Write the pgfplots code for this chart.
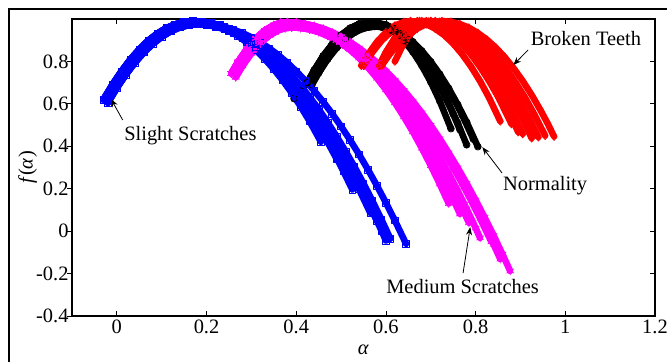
\documentclass[border=0pt]{standalone}
\usepackage{fontspec}
\setmainfont{Liberation Serif}[ItalicFont={Liberation Serif Italic}]
\usepackage{pgfplots}
\pgfplotsset{compat=1.18}
\usetikzlibrary{arrows.meta}
\pgfplotsset{
 grpB/.style={color={rgb,255:red,0;green,0;blue,255}, line width=6.5bp, line join=round, line cap=round, mark=square, mark size=3.3bp, mark options={line width=0.7bp, solid}},
 grpM/.style={color={rgb,255:red,255;green,0;blue,255}, line width=6.5bp, line join=round, line cap=round, mark=asterisk, mark size=4bp, mark options={line width=0.8bp, solid}},
 grpK/.style={black, line width=6.5bp, line join=round, line cap=round, mark=o, mark size=3.4bp, mark options={line width=0.7bp, solid}},
 grpR/.style={color={rgb,255:red,255;green,0;blue,0}, line width=6.5bp, line join=round, line cap=round, mark=diamond, mark size=4bp, mark options={line width=0.7bp, solid}},
}
\tikzset{ann/.style={-{Stealth[length=8bp,width=6bp]}, line width=0.8bp, black}}
\begin{document}
\begin{tikzpicture}[font=\rmfamily\fontsize{20.5}{24}\selectfont]
% left outside ticks
\begin{axis}[
 scale only axis, width=583bp, height=297bp,
 xmin=-0.1, xmax=1.2, ymin=-0.4, ymax=1.0,
 hide x axis, axis y line*=left,
 ytick={-0.4,-0.2,0,0.2,0.4,0.6,0.8}, yticklabels={},
 tick align=outside, major tick length=5bp,
 tick style={black, line width=0.8bp},
 axis line style={line width=1.2bp, -},
]
\end{axis}
\begin{axis}[
 name=main,
 scale only axis, width=583bp, height=297bp,
 xmin=-0.1, xmax=1.2, ymin=-0.4, ymax=1.0,
 clip=false,
 xtick={0,0.2,0.4,0.6,0.8,1,1.2}, xticklabels={0,0.2,0.4,0.6,0.8,1,1.2},
 ytick={-0.4,-0.2,0,0.2,0.4,0.6,0.8}, yticklabels={-0.4,-0.2,0,0.2,0.4,0.6,0.8},
 xtick pos=both, ytick pos=right, yticklabel pos=left,
 tick align=inside, major tick length=5bp,
 tick style={black, line width=0.8bp},
 axis line style={line width=1.2bp},
 ticklabel style={font=\rmfamily\fontsize{20.5}{24}\selectfont},
 label style={font=\rmfamily\fontsize{20.5}{24}\selectfont},
 xlabel={\textit{α}}, ylabel={\textit{f}(\textit{α})},
 xlabel style={at={(axis description cs:0.5,-0.114)}, anchor=center},
 ylabel style={at={(axis description cs:-0.076,0.5)}, anchor=center},
]
% ---------- Normality (black) ----------
\addplot[grpK] coordinates {(0.395,0.625) (0.41,0.66) (0.425,0.701) (0.44,0.758) (0.46,0.825) (0.48,0.880) (0.50,0.924) (0.52,0.956) (0.54,0.976) (0.565,0.985) (0.58,0.981) (0.60,0.966) (0.62,0.938) (0.64,0.898) (0.66,0.845) (0.68,0.780) (0.70,0.703) (0.72,0.613) (0.745,0.483)};
\addplot[grpK] coordinates {(0.435,0.691) (0.45,0.746) (0.47,0.811) (0.49,0.864) (0.51,0.906) (0.53,0.937) (0.55,0.956) (0.575,0.965) (0.59,0.962) (0.61,0.948) (0.63,0.924) (0.65,0.889) (0.67,0.843) (0.69,0.786) (0.71,0.719) (0.73,0.641) (0.75,0.552) (0.765,0.478)};
\addplot[grpK] coordinates {(0.425,0.701) (0.44,0.758) (0.46,0.825) (0.48,0.880) (0.50,0.924) (0.52,0.956) (0.54,0.976) (0.565,0.985) (0.58,0.982) (0.60,0.970) (0.62,0.947) (0.64,0.915) (0.66,0.872) (0.68,0.820) (0.70,0.757) (0.72,0.685) (0.74,0.602) (0.76,0.510) (0.78,0.407)};
\addplot[grpK] coordinates {(0.435,0.691) (0.45,0.746) (0.47,0.811) (0.49,0.864) (0.51,0.906) (0.53,0.937) (0.55,0.956) (0.575,0.965) (0.59,0.963) (0.61,0.952) (0.63,0.932) (0.65,0.903) (0.67,0.866) (0.69,0.820) (0.71,0.765) (0.73,0.701) (0.75,0.628) (0.77,0.547) (0.795,0.433)};
\addplot[grpK] coordinates {(0.425,0.701) (0.44,0.758) (0.46,0.825) (0.48,0.880) (0.50,0.924) (0.52,0.956) (0.54,0.976) (0.565,0.985) (0.58,0.983) (0.60,0.973) (0.62,0.954) (0.64,0.928) (0.66,0.893) (0.68,0.850) (0.70,0.799) (0.72,0.740) (0.74,0.673) (0.76,0.597) (0.78,0.514) (0.805,0.398)};
% ---------- Slight Scratches (blue) ----------
\addplot[grpB] coordinates {(-0.03,0.62) (-0.01,0.690) (0.01,0.753) (0.03,0.809) (0.05,0.857) (0.07,0.898) (0.09,0.931) (0.11,0.957) (0.13,0.975) (0.15,0.986) (0.17,0.99) (0.19,0.987) (0.21,0.979) (0.23,0.965) (0.25,0.945) (0.27,0.920) (0.29,0.889) (0.31,0.853) (0.33,0.811) (0.35,0.763) (0.37,0.710) (0.39,0.651) (0.41,0.587) (0.43,0.517) (0.455,0.421)};
\addplot[grpB] coordinates {(-0.02,0.605) (0.00,0.675) (0.02,0.738) (0.04,0.794) (0.06,0.842) (0.08,0.883) (0.10,0.916) (0.12,0.942) (0.14,0.960) (0.16,0.971) (0.18,0.975) (0.20,0.972) (0.22,0.964) (0.24,0.951) (0.26,0.933) (0.28,0.909) (0.30,0.880) (0.32,0.846) (0.34,0.806) (0.36,0.761) (0.38,0.711) (0.40,0.656) (0.42,0.595) (0.44,0.529) (0.46,0.458) (0.49,0.341)};
\addplot[grpB] coordinates {(-0.03,0.62) (-0.01,0.690) (0.01,0.753) (0.03,0.809) (0.05,0.857) (0.07,0.898) (0.09,0.931) (0.11,0.957) (0.13,0.975) (0.15,0.986) (0.17,0.99) (0.19,0.987) (0.21,0.980) (0.23,0.967) (0.25,0.950) (0.27,0.927) (0.29,0.899) (0.31,0.867) (0.33,0.829) (0.35,0.786) (0.37,0.738) (0.39,0.685) (0.41,0.627) (0.43,0.564) (0.45,0.496) (0.47,0.423) (0.49,0.345) (0.505,0.283) (0.525,0.196)};
\addplot[grpB] coordinates {(-0.02,0.605) (0.00,0.675) (0.02,0.738) (0.04,0.794) (0.06,0.842) (0.08,0.883) (0.10,0.916) (0.12,0.942) (0.14,0.960) (0.16,0.971) (0.18,0.975) (0.20,0.973) (0.22,0.965) (0.24,0.953) (0.26,0.937) (0.28,0.915) (0.30,0.889) (0.32,0.857) (0.34,0.821) (0.36,0.781) (0.38,0.735) (0.40,0.685) (0.42,0.629) (0.44,0.569) (0.46,0.505) (0.48,0.435) (0.50,0.361) (0.52,0.281) (0.54,0.197) (0.565,0.086)};
\addplot[grpB] coordinates {(-0.02,0.605) (0.00,0.675) (0.02,0.738) (0.04,0.794) (0.06,0.842) (0.08,0.883) (0.10,0.916) (0.12,0.942) (0.14,0.960) (0.16,0.971) (0.18,0.975) (0.20,0.973) (0.22,0.966) (0.24,0.954) (0.26,0.938) (0.28,0.917) (0.30,0.892) (0.32,0.861) (0.34,0.827) (0.36,0.787) (0.38,0.743) (0.40,0.694) (0.42,0.641) (0.44,0.583) (0.46,0.520) (0.48,0.453) (0.50,0.381) (0.52,0.305) (0.54,0.223) (0.56,0.138) (0.58,0.047)};
\addplot[grpB] coordinates {(-0.03,0.62) (-0.01,0.690) (0.01,0.753) (0.03,0.809) (0.05,0.857) (0.07,0.898) (0.09,0.931) (0.11,0.957) (0.13,0.975) (0.15,0.986) (0.17,0.99) (0.19,0.988) (0.21,0.981) (0.23,0.970) (0.25,0.954) (0.27,0.934) (0.29,0.909) (0.31,0.880) (0.33,0.847) (0.35,0.809) (0.37,0.766) (0.39,0.719) (0.41,0.667) (0.43,0.611) (0.45,0.551) (0.47,0.486) (0.49,0.417) (0.51,0.343) (0.53,0.264) (0.55,0.181) (0.57,0.094) (0.59,0.002) (0.60,-0.045)};
\addplot[grpB] coordinates {(-0.03,0.62) (-0.01,0.690) (0.01,0.753) (0.03,0.809) (0.05,0.857) (0.07,0.898) (0.09,0.931) (0.11,0.957) (0.13,0.975) (0.15,0.986) (0.17,0.99) (0.19,0.988) (0.21,0.982) (0.23,0.971) (0.25,0.956) (0.27,0.937) (0.29,0.914) (0.31,0.886) (0.33,0.854) (0.35,0.818) (0.37,0.778) (0.39,0.734) (0.41,0.685) (0.43,0.632) (0.45,0.575) (0.47,0.513) (0.49,0.447) (0.51,0.377) (0.53,0.303) (0.55,0.225) (0.57,0.142) (0.59,0.055) (0.61,-0.036)};
\addplot[grpB] coordinates {(-0.02,0.605) (0.00,0.675) (0.02,0.738) (0.04,0.794) (0.06,0.842) (0.08,0.883) (0.10,0.916) (0.12,0.942) (0.14,0.960) (0.16,0.971) (0.18,0.975) (0.20,0.975) (0.22,0.970) (0.24,0.962) (0.26,0.950) (0.28,0.934) (0.30,0.914) (0.32,0.890) (0.34,0.862) (0.36,0.830) (0.38,0.794) (0.40,0.754) (0.42,0.710) (0.44,0.662) (0.46,0.610) (0.48,0.554) (0.50,0.494) (0.52,0.430) (0.54,0.362) (0.56,0.290) (0.58,0.214) (0.60,0.134) (0.62,0.050) (0.645,-0.060)};
% ---------- Medium Scratches (magenta) ----------
\addplot[grpM] coordinates {(0.255,0.743) (0.27,0.797) (0.29,0.859) (0.31,0.909) (0.33,0.946) (0.35,0.971) (0.365,0.982) (0.38,0.985) (0.40,0.982) (0.42,0.974) (0.44,0.961) (0.46,0.943) (0.48,0.919) (0.50,0.890) (0.52,0.856) (0.54,0.816) (0.56,0.771) (0.58,0.721) (0.60,0.666) (0.62,0.605) (0.64,0.539) (0.66,0.468) (0.68,0.391) (0.70,0.309) (0.72,0.222) (0.74,0.130)};
\addplot[grpM] coordinates {(0.265,0.726) (0.28,0.779) (0.30,0.839) (0.32,0.887) (0.34,0.923) (0.36,0.947) (0.375,0.957) (0.39,0.96) (0.41,0.958) (0.43,0.950) (0.45,0.938) (0.47,0.920) (0.49,0.898) (0.51,0.870) (0.53,0.838) (0.55,0.800) (0.57,0.758) (0.59,0.710) (0.61,0.658) (0.63,0.600) (0.65,0.538) (0.67,0.470) (0.69,0.398) (0.71,0.320) (0.73,0.238) (0.75,0.150) (0.765,0.081)};
\addplot[grpM] coordinates {(0.265,0.726) (0.28,0.779) (0.30,0.839) (0.32,0.887) (0.34,0.923) (0.36,0.947) (0.375,0.957) (0.39,0.96) (0.41,0.958) (0.43,0.951) (0.45,0.939) (0.47,0.922) (0.49,0.901) (0.51,0.875) (0.53,0.844) (0.55,0.809) (0.57,0.769) (0.59,0.724) (0.61,0.674) (0.63,0.620) (0.65,0.561) (0.67,0.497) (0.69,0.429) (0.71,0.356) (0.73,0.278) (0.75,0.195) (0.77,0.108) (0.785,0.039)};
\addplot[grpM] coordinates {(0.255,0.743) (0.27,0.797) (0.29,0.859) (0.31,0.909) (0.33,0.946) (0.35,0.971) (0.365,0.982) (0.38,0.985) (0.40,0.983) (0.42,0.976) (0.44,0.965) (0.46,0.950) (0.48,0.930) (0.50,0.906) (0.52,0.877) (0.54,0.844) (0.56,0.807) (0.58,0.765) (0.60,0.719) (0.62,0.668) (0.64,0.613) (0.66,0.554) (0.68,0.490) (0.70,0.422) (0.72,0.349) (0.74,0.272) (0.76,0.191) (0.78,0.105) (0.80,0.015) (0.81,-0.032)};
\addplot[grpM] coordinates {(0.265,0.726) (0.28,0.779) (0.30,0.839) (0.32,0.887) (0.34,0.923) (0.36,0.947) (0.375,0.957) (0.39,0.96) (0.41,0.958) (0.43,0.952) (0.45,0.942) (0.47,0.927) (0.49,0.909) (0.51,0.887) (0.53,0.860) (0.55,0.829) (0.57,0.795) (0.59,0.756) (0.61,0.713) (0.63,0.666) (0.65,0.615) (0.67,0.560) (0.69,0.501) (0.71,0.438) (0.73,0.370) (0.75,0.299) (0.77,0.224) (0.79,0.144) (0.81,0.060) (0.835,-0.050)};
\addplot[grpM] coordinates {(0.255,0.743) (0.27,0.797) (0.29,0.859) (0.31,0.909) (0.33,0.946) (0.35,0.971) (0.365,0.982) (0.38,0.985) (0.40,0.983) (0.42,0.977) (0.44,0.967) (0.46,0.953) (0.48,0.936) (0.50,0.914) (0.52,0.888) (0.54,0.858) (0.56,0.825) (0.58,0.787) (0.60,0.745) (0.62,0.700) (0.64,0.650) (0.66,0.597) (0.68,0.540) (0.70,0.478) (0.72,0.413) (0.74,0.344) (0.76,0.270) (0.78,0.193) (0.80,0.112) (0.82,0.027) (0.84,-0.062) (0.855,-0.132)};
\addplot[grpM] coordinates {(0.255,0.743) (0.27,0.797) (0.29,0.859) (0.31,0.909) (0.33,0.946) (0.35,0.971) (0.365,0.982) (0.38,0.985) (0.40,0.983) (0.42,0.977) (0.44,0.968) (0.46,0.955) (0.48,0.938) (0.50,0.917) (0.52,0.892) (0.54,0.863) (0.56,0.831) (0.58,0.795) (0.60,0.755) (0.62,0.711) (0.64,0.664) (0.66,0.613) (0.68,0.558) (0.70,0.499) (0.72,0.436) (0.74,0.369) (0.76,0.299) (0.78,0.225) (0.80,0.147) (0.82,0.065) (0.84,-0.020) (0.86,-0.109) (0.877,-0.188)};
% ---------- Broken Teeth (red) ----------
\addplot[grpR] coordinates {(0.545,0.78) (0.56,0.833) (0.58,0.892) (0.60,0.937) (0.62,0.969) (0.64,0.986) (0.655,0.99) (0.67,0.987) (0.69,0.976) (0.71,0.954) (0.73,0.924) (0.75,0.884) (0.77,0.834) (0.79,0.775) (0.81,0.707) (0.83,0.629) (0.855,0.518)};
\addplot[grpR] coordinates {(0.55,0.78) (0.57,0.844) (0.59,0.897) (0.61,0.937) (0.63,0.967) (0.65,0.984) (0.67,0.99) (0.69,0.986) (0.71,0.972) (0.73,0.950) (0.75,0.920) (0.77,0.880) (0.79,0.832) (0.81,0.774) (0.83,0.708) (0.85,0.634) (0.88,0.505)};
\addplot[grpR] coordinates {(0.585,0.78) (0.60,0.844) (0.62,0.912) (0.64,0.958) (0.66,0.984) (0.675,0.99) (0.695,0.986) (0.715,0.973) (0.735,0.951) (0.755,0.921) (0.775,0.882) (0.795,0.834) (0.815,0.778) (0.835,0.714) (0.855,0.640) (0.875,0.558) (0.895,0.467)};
\addplot[grpR] coordinates {(0.585,0.78) (0.60,0.841) (0.62,0.906) (0.64,0.953) (0.66,0.981) (0.68,0.99) (0.70,0.986) (0.72,0.973) (0.74,0.952) (0.76,0.923) (0.78,0.885) (0.80,0.839) (0.82,0.784) (0.84,0.721) (0.86,0.650) (0.88,0.570) (0.905,0.458)};
\addplot[grpR] coordinates {(0.59,0.78) (0.61,0.856) (0.63,0.914) (0.65,0.956) (0.67,0.982) (0.69,0.99) (0.71,0.986) (0.73,0.974) (0.75,0.954) (0.77,0.926) (0.79,0.890) (0.81,0.846) (0.83,0.794) (0.85,0.734) (0.87,0.666) (0.89,0.590) (0.91,0.506) (0.925,0.438)};
\addplot[grpR] coordinates {(0.59,0.78) (0.61,0.849) (0.63,0.905) (0.65,0.947) (0.67,0.974) (0.685,0.986) (0.70,0.99) (0.72,0.986) (0.74,0.975) (0.76,0.955) (0.78,0.928) (0.80,0.893) (0.82,0.850) (0.84,0.800) (0.86,0.742) (0.88,0.676) (0.90,0.602) (0.92,0.521) (0.935,0.454)};
\addplot[grpR] coordinates {(0.62,0.80) (0.635,0.865) (0.65,0.916) (0.67,0.963) (0.685,0.983) (0.70,0.99) (0.72,0.986) (0.74,0.975) (0.76,0.956) (0.78,0.929) (0.80,0.895) (0.82,0.853) (0.84,0.804) (0.86,0.747) (0.88,0.682) (0.90,0.610) (0.92,0.530) (0.94,0.443)};
\addplot[grpR] coordinates {(0.585,0.78) (0.60,0.828) (0.62,0.881) (0.64,0.924) (0.66,0.956) (0.68,0.978) (0.695,0.987) (0.71,0.99) (0.73,0.986) (0.75,0.976) (0.77,0.958) (0.79,0.932) (0.81,0.900) (0.83,0.860) (0.85,0.814) (0.87,0.760) (0.89,0.698) (0.91,0.630) (0.93,0.554) (0.955,0.450)};
\addplot[grpR] coordinates {(0.59,0.78) (0.61,0.838) (0.63,0.886) (0.65,0.925) (0.67,0.955) (0.69,0.976) (0.71,0.987) (0.725,0.99) (0.745,0.987) (0.765,0.976) (0.785,0.959) (0.805,0.934) (0.825,0.903) (0.845,0.865) (0.865,0.820) (0.885,0.767) (0.905,0.708) (0.925,0.642) (0.945,0.569) (0.96,0.510) (0.975,0.446)};
% ---------- annotations ----------
\draw[ann] (axis cs:0.013,0.524) -- (axis cs:-0.013,0.623);
\node[anchor=base] at (axis cs:0.164,0.429) {Slight Scratches};
\draw[ann] (axis cs:0.859,0.274) -- (axis cs:0.815,0.396);
\node[anchor=base] at (axis cs:0.955,0.193) {Normality};
\draw[ann] (axis cs:0.772,-0.198) -- (axis cs:0.788,0.019);
\node[anchor=base] at (axis cs:0.771,-0.292) {Medium Scratches};
\draw[ann] (axis cs:0.917,0.854) -- (axis cs:0.884,0.783);
\node[anchor=base] at (axis cs:1.046,0.877) {Broken Teeth};
\end{axis}
% outer figure frame (left and top edges visible)
\draw[line width=2.5bp] ([shift={(-63bp,-120bp)}]main.south west) |- ([shift={(60bp,10bp)}]main.north east);
\pgfresetboundingbox
\path[use as bounding box] ([shift={(-72bp,-46bp)}]main.south west) rectangle ([shift={(12bp,19bp)}]main.north east);
\end{tikzpicture}
\end{document}
